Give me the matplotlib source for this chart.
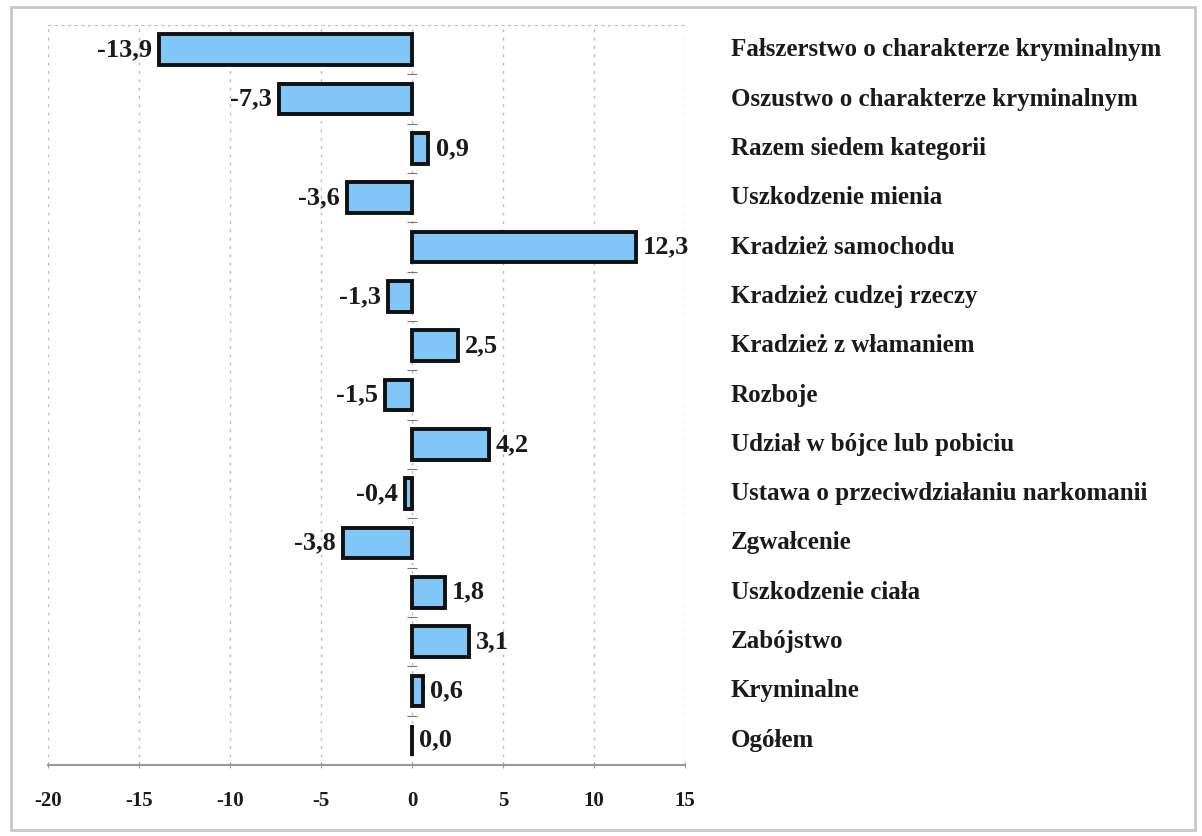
import matplotlib.pyplot as plt
from matplotlib.patches import Rectangle
from matplotlib.transforms import blended_transform_factory

categories = [
    "Fałszerstwo o charakterze kryminalnym",
    "Oszustwo o charakterze kryminalnym",
    "Razem siedem kategorii",
    "Uszkodzenie mienia",
    "Kradzież samochodu",
    "Kradzież cudzej rzeczy",
    "Kradzież z włamaniem",
    "Rozboje",
    "Udział w bójce lub pobiciu",
    "Ustawa o przeciwdziałaniu narkomanii",
    "Zgwałcenie",
    "Uszkodzenie ciała",
    "Zabójstwo",
    "Kryminalne",
    "Ogółem",
]
values = [-13.9, -7.3, 0.9, -3.6, 12.3, -1.3, 2.5, -1.5, 4.2, -0.4, -3.8, 1.8, 3.1, 0.6, 0.0]
x_ticks = [-20, -15, -10, -5, 0, 5, 10, 15]

SERIF = "Liberation Serif"
BAR_COLOR = "#80c6f6"


def fmt(v):
    return f"{v:.1f}".replace(".", ",")


fig = plt.figure(figsize=(12.02, 8.36), dpi=100)
ax = fig.add_axes([0.040, 0.085, 0.530, 0.885])

n = len(categories)
ypos = list(range(n - 1, -1, -1))
ax.barh(ypos, values, height=0.62, color=BAR_COLOR, edgecolor="#111111", linewidth=2.8, zorder=3)

for y, v in zip(ypos, values):
    if v >= 0:
        ax.text(v + 0.4, y, fmt(v), ha="left", va="center", fontsize=19,
                fontweight="bold", family=SERIF, color="#1a1a1a")
    else:
        ax.text(v - 0.4, y, fmt(v), ha="right", va="center", fontsize=19,
                fontweight="bold", family=SERIF, color="#1a1a1a")

label_tr = blended_transform_factory(fig.transFigure, ax.transData)
for y, name in zip(ypos, categories):
    ax.text(0.608, y, name, transform=label_tr, ha="left", va="center", fontsize=18,
            fontweight="bold", family=SERIF, color="#1a1a1a", clip_on=False)

ax.set_xlim(-20, 15)
ax.set_ylim(-0.5, n - 0.5)
ax.set_xticks(x_ticks)
ax.set_xticklabels([str(t) for t in x_ticks], fontsize=15, fontweight="bold", family=SERIF)
ax.tick_params(axis="x", length=5, color="#999999", pad=16, labelcolor="#1a1a1a", direction="inout")

ax.set_yticks([k + 0.5 for k in range(n - 1)])
ax.set_yticklabels([])
ax.spines["left"].set_position(("data", 0))
ax.spines["left"].set_visible(False)
ax.tick_params(axis="y", length=7, color="#777777", direction="inout")

ax.grid(axis="x", linestyle=(0, (2, 4)), color="#bbbbbb", linewidth=1.0, zorder=0)
ax.spines["right"].set_visible(False)
ax.spines["top"].set_linestyle((0, (2, 4)))
ax.spines["top"].set_color("#bbbbbb")
ax.spines["bottom"].set_color("#999999")
ax.spines["bottom"].set_linewidth(1.5)

fig.patches.append(Rectangle((0.009, 0.007), 0.985, 0.985, transform=fig.transFigure,
                             fill=False, edgecolor="#c8c8c8", linewidth=2))

fig.savefig("out.png", dpi=100)
